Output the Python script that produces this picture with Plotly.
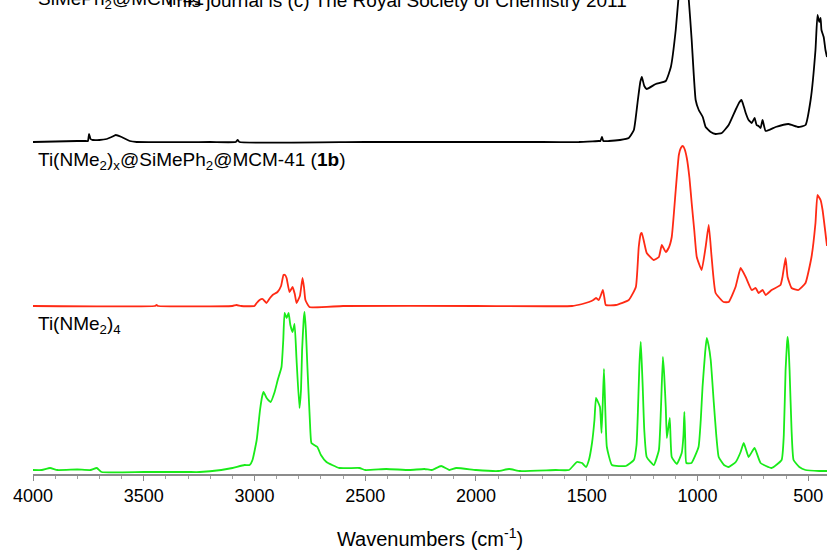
import plotly.graph_objects as go

# --- IR spectra (wavenumber in cm-1, absorbance in arbitrary units above each baseline) ---

# SiMePh2@MCM-41
black_wn = [4000, 3800, 3760, 3752, 3747, 3740, 3730, 3700, 3667, 3645, 3626, 3600, 3563, 3532,
            3200, 3085, 3076, 3068, 2500, 2000, 1700, 1535, 1445, 1438, 1431, 1425, 1400, 1350,
            1310, 1287, 1269, 1258, 1251, 1240, 1229, 1188, 1143, 1120, 1098, 1084, 1070, 1060,
            1050, 1039, 1026, 1008, 994, 976, 963, 940, 918, 890, 859, 828, 810, 801, 790, 782,
            769, 755, 742, 733, 724, 715, 706, 692, 647, 589, 544, 512, 489, 467, 458, 450, 444,
            440, 430, 422, 415]
black_ab = [0, 1, 1, 1, 8, 3, 2, 2, 3, 5, 7, 5, 1, 0,
            0, 0, 2, 0, 0, 0, 0, 0, 1, 1, 5, 1, 1, 2,
            4, 12, 42, 60, 65, 56, 53, 58, 61, 75, 112, 148, 172, 172,
            162, 142, 102, 42, 32, 25, 15, 10, 8, 9, 17, 32, 40, 42, 35, 29,
            22, 19, 24, 17, 16, 14, 22, 11, 15, 18, 15, 17, 42, 92, 127, 120, 124,
            112, 105, 92, 85]

# Ti(NMe2)x@SiMePh2@MCM-41 (1b)
red_wn = [4000, 3450, 3442, 3435, 3100, 3081, 3060, 3000, 2990, 2977, 2963, 2946, 2930, 2918,
          2896, 2880, 2869, 2862, 2855, 2842, 2828, 2818, 2810, 2795, 2783, 2776, 2770, 2752,
          2600, 2000, 1566, 1520, 1490, 1470, 1458, 1445, 1427, 1420, 1414, 1368, 1310, 1278,
          1265, 1256, 1251, 1240, 1229, 1197, 1174, 1161, 1143, 1130, 1116, 1098, 1084, 1075,
          1066, 1058, 1048, 1036, 1026, 1014, 1003, 981, 963, 949, 936, 918, 882, 859, 828, 805,
          782, 755, 737, 724, 706, 692, 665, 625, 616, 602, 593, 575, 544, 512, 485, 467, 458,
          444, 435, 415]
red_ab = [0, 0, 1, 0, 0, 1, 0, 0, 3, 6, 7, 3, 8, 11,
          14, 20, 31, 31, 28, 14, 19, 12, 3, 10, 28, 18, 6, -1,
          0, 0, 0, 2, 4, 6, 8, 6, 16, 8, 1, 1, 6, 19,
          59, 72, 73, 63, 53, 46, 49, 61, 54, 58, 69, 116, 151, 158,
          160, 157, 148, 128, 103, 75, 49, 36, 59, 81, 49, 13, 4, 4, 19, 38,
          29, 16, 18, 13, 16, 11, 16, 21, 29, 48, 29, 18, 16, 23, 49, 83, 111,
          106, 96, 60]

# Ti(NMe2)4
green_wn = [4000, 3960, 3923, 3890, 3800, 3740, 3712, 3690, 3500, 3300, 3247, 3150, 3099, 3045,
            3022, 3009, 2990, 2975, 2965, 2959, 2945, 2927, 2909, 2895, 2878, 2870, 2864, 2855,
            2846, 2838, 2828, 2819, 2810, 2797, 2790, 2785, 2778, 2774, 2768, 2761, 2750, 2743,
            2730, 2716, 2700, 2675, 2617, 2526, 2500, 2405, 2300, 2233, 2200, 2188, 2157, 2120,
            2089, 2000, 1900, 1850, 1800, 1640, 1580, 1544, 1521, 1503, 1490, 1476, 1465, 1458,
            1449, 1440, 1433, 1427, 1422, 1416, 1409, 1386, 1323, 1287, 1275, 1269, 1262, 1256,
            1251, 1247, 1240, 1229, 1197, 1174, 1165, 1156, 1150, 1143, 1138, 1125, 1116, 1093,
            1071, 1063, 1059, 1055, 1050, 1027, 995, 985, 977, 965, 958, 950, 940, 926, 915, 904,
            880, 859, 827, 805, 791, 780, 769, 742, 715, 665, 620, 610, 602, 596, 593, 589, 584,
            575, 566, 540, 512, 450, 415]
green_ab = [0, 0, 2, 0, 0.5, 0, 2, -2, -2, -2, -2, 0, 2, 5,
            5, 10, 30, 60, 74, 78, 72, 68, 78, 90, 103, 130, 157, 152,
            157, 145, 138, 146, 110, 62, 80, 120, 150, 158, 140, 103, 50, 27,
            25, 23, 15, 8, 2, 2, 0, 1, 0, 1, 0, 1, 4, 0,
            2, 0, -1, 1, -1, 0, 0, 8, 7, 3, 10, 27, 50, 72,
            68, 63, 37, 70, 101, 60, 23, 5, 4, 10, 25, 57, 105, 128,
            105, 83, 40, 13, 5, 20, 60, 113, 95, 63, 32, 52, 13, 6,
            17, 35, 58, 30, 7, 7, 23, 50, 83, 118, 132, 125, 110, 67, 35, 13,
            5, 3, 8, 18, 27, 20, 13, 22, 7, 2, 10, 35, 100, 125, 133, 125, 100,
            40, 10, 3, 0, -1, -1]

# vertical stacking of the three spectra
offsets = {"black": 332, "red": 168, "green": 4}

labels = {
    "black": "SiMePh<sub>2</sub>@MCM-41",
    "red": "Ti(NMe<sub>2</sub>)<sub>x</sub>@SiMePh<sub>2</sub>@MCM-41 (<b>1b</b>)",
    "green": "Ti(NMe<sub>2</sub>)<sub>4</sub>",
}
footer_text = "This journal is (c) The Royal Society of Chemistry 2011"

tick_vals = [4000, 3500, 3000, 2500, 2000, 1500, 1000, 500]
tick_text = [str(v) for v in tick_vals]

colors = {"black": "#000000", "red": "#ff2a14", "green": "#19eb19"}
FONT = "Liberation Sans, Arial, sans-serif"

fig = go.Figure()
for key, wn, ab in [("black", black_wn, black_ab),
                    ("red", red_wn, red_ab),
                    ("green", green_wn, green_ab)]:
    fig.add_trace(go.Scatter(
        x=wn, y=[a + offsets[key] for a in ab], mode="lines",
        line=dict(color=colors[key], width=1.8, shape="spline", smoothing=0.4),
        hoverinfo="skip", showlegend=False,
    ))

# spectrum labels
label_pos = {"black": 474, "red": 313, "green": 149}
for key in ["black", "red", "green"]:
    fig.add_annotation(x=3988, y=label_pos[key], xref="x", yref="y", text=labels[key],
                       showarrow=False, xanchor="left", yanchor="middle",
                       font=dict(family=FONT, size=19, color="#000000"))
fig.add_annotation(x=3413, y=474, xref="x", yref="y", text=footer_text,
                   showarrow=False, xanchor="left", yanchor="middle",
                   font=dict(family=FONT, size=19, color="#000000"))

fig.update_layout(
    width=827, height=550,
    margin=dict(l=33, r=0, t=0, b=76),
    plot_bgcolor="white", paper_bgcolor="white",
    font=dict(family=FONT, color="#000000"),
    xaxis=dict(
        range=[4000, 415], showgrid=False, zeroline=False,
        showline=True, linecolor="#8c8c8c", linewidth=1.5,
        ticks="outside", ticklen=5, tickcolor="#8c8c8c", tickwidth=1,
        tickvals=tick_vals, ticktext=tick_text,
        tickfont=dict(family=FONT, size=18, color="#000000"),
        minor=dict(dtick=100, tick0=0, ticks="outside", ticklen=3,
                   tickcolor="#a0a0a0", showgrid=False),
        title=dict(text="Wavenumbers (cm<sup>-1</sup>)", standoff=28,
                   font=dict(family=FONT, size=20, color="#000000")),
    ),
    yaxis=dict(range=[0, 474], visible=False),
)

fig.write_html("out.html")
